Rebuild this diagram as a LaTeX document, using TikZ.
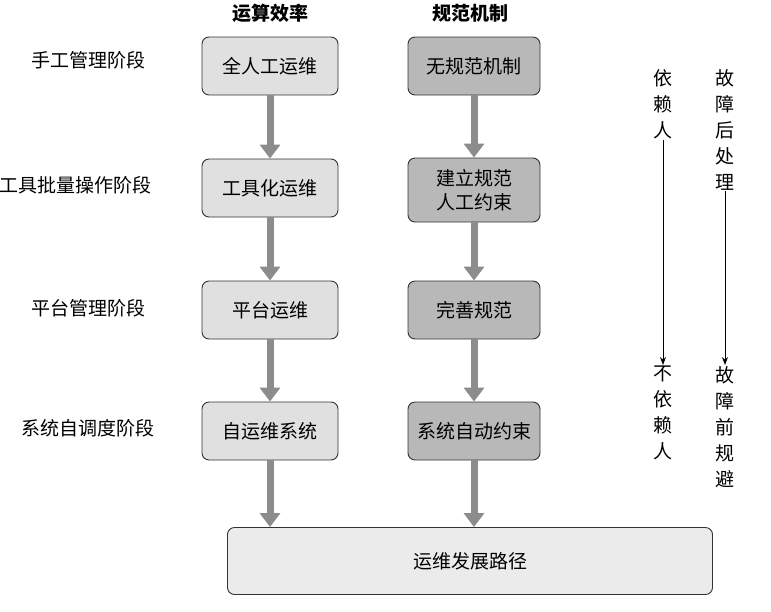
\documentclass[tikz,border=0pt]{standalone}
\usepackage{fontspec}
\setmainfont{Noto Sans CJK SC}
\usetikzlibrary{arrows.meta}
\begin{document}
\begin{tikzpicture}[x=1pt,y=-1pt,
 box/.style={draw=black!80,line width=0.9pt,rounded corners=7pt,font=\fontsize{19}{24}\selectfont,align=center,inner sep=0pt},
 b1/.style={box,fill=black!12,minimum width=136pt,minimum height=58pt},
 b2/.style={box,fill=black!28,minimum width=132pt,minimum height=58pt},
 lab/.style={font=\fontsize{19}{23}\selectfont},
 big/.style={draw=black!45,line width=7pt,-{Triangle[length=14pt,width=20pt]}},
 thin/.style={draw=black,line width=0.8pt,-{Stealth[length=8pt,width=6pt]}},
 vt/.style={font=\fontsize{19}{26}\selectfont,align=center,inner sep=1pt}]
\useasboundingbox (0,0) rectangle (771,611);
\node[font=\bfseries\fontsize{19}{23}\selectfont] (h1) at (270,13) {运算效率};
\node[font=\bfseries\fontsize{19}{23}\selectfont] (h2) at (470,13) {规范机制};
\node[lab] (l1) at (88,60) {手工管理阶段};
\node[lab,anchor=west] (l2) at (-4,185) {工具批量操作阶段};
\node[lab] (l3) at (88,308) {平台管理阶段};
\node[lab] (l4) at (88,428) {系统自调度阶段};
\node[b1] (a1) at (270,66) {全人工运维};
\node[b1] (a2) at (270,188) {工具化运维};
\node[b1] (a3) at (270,310) {平台运维};
\node[b1] (a4) at (270,431) {自运维系统};
\node[b2] (c1) at (474,66) {无规范机制};
\node[b2,minimum height=64pt] (c2) at (474,190) {建立规范\\人工约束};
\node[b2] (c3) at (474,310) {完善规范};
\node[b2] (c4) at (474,431) {系统自动约束};
\node[box,fill=black!8,minimum width=485pt,minimum height=67pt] (e) at (470,561) {运维发展路径};
\draw[big] (a1) -- (a2); \draw[big] (a2) -- (a3); \draw[big] (a3) -- (a4);
\draw[big] (c1) -- (c2); \draw[big] (c2) -- (c3); \draw[big] (c3) -- (c4);
\draw[big] (a4.south) -- (a4.south|-e.north);
\draw[big] (c4.south) -- (c4.south|-e.north);
\node[vt,anchor=north] (r1) at (663,68) {依\\赖\\人};
\node[vt,anchor=north] (r2) at (663,365) {不\\依\\赖\\人};
\node[vt,anchor=north] (s1) at (725,68) {故\\障\\后\\处\\理};
\node[vt,anchor=north] (s2) at (725,365) {故\\障\\前\\规\\避};
\draw[thin] (r1.south) -- (r2.north);
\draw[thin] (s1.south) -- (s2.north);
\end{tikzpicture}
\end{document}
